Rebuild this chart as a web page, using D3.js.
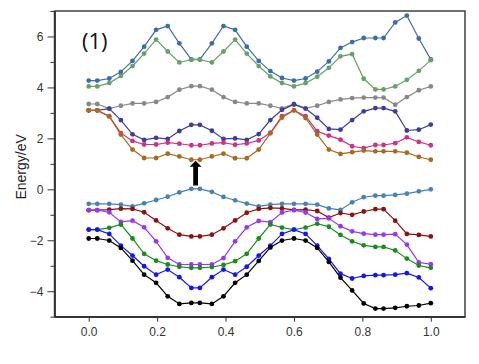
<!DOCTYPE html>
<html><head><meta charset="utf-8">
<script src="https://cdn.jsdelivr.net/npm/d3@7"></script>
<style>html,body{margin:0;padding:0;background:#fff;}svg{display:block;}</style>
</head><body><svg id="c" width="479" height="364"></svg>
<script>
const xs = [0,0.025,0.06,0.094,0.128,0.162,0.197,0.231,0.265,0.3,0.325,0.36,0.394,0.428,0.462,0.497,0.531,0.565,0.6,0.634,0.668,0.702,0.736,0.77,0.804,0.838,0.862,0.896,0.93,0.965,1.0];

const c1 = [4.27,4.27,4.35,4.61,5.04,5.6,6.26,6.41,5.73,5.1,5.1,5.73,6.41,6.26,5.6,5.04,4.64,4.37,4.27,4.35,4.62,5.02,5.55,5.78,5.94,5.94,5.94,6.55,6.82,5.92,5.1];
const c2 = [4.04,4.04,4.17,4.45,4.84,5.33,5.88,5.41,4.98,5.09,5.09,4.98,5.41,5.88,5.33,4.84,4.43,4.17,4.04,4.17,4.42,4.77,5.22,5.31,4.34,3.92,3.92,4.04,4.3,4.65,5.07];
const c3 = [3.35,3.35,3.17,3.28,3.37,3.37,3.43,3.62,3.91,4.05,4.05,3.91,3.62,3.43,3.37,3.37,3.28,3.18,3.35,3.18,3.28,3.43,3.53,3.58,3.6,3.6,3.6,3.32,3.62,3.89,4.04];
const c4 = [3.1,3.1,3.17,2.72,2.16,1.94,2.02,1.98,2.29,2.53,2.53,2.3,1.98,2.0,1.94,2.17,2.72,3.12,3.33,3.17,2.81,2.37,2.34,2.72,3.06,3.19,3.19,3.06,2.31,2.34,2.54];
const c5 = [3.1,3.1,2.87,2.21,1.9,1.76,1.76,1.83,1.79,1.73,1.73,1.8,1.83,1.75,1.8,1.92,2.22,2.87,3.1,2.87,2.28,2.11,1.95,1.69,1.62,1.74,1.74,1.81,2.04,1.86,1.73];
const c6 = [3.1,3.1,2.86,2.15,1.56,1.23,1.23,1.4,1.29,1.16,1.16,1.29,1.4,1.22,1.22,1.56,2.2,2.82,3.1,2.8,2.15,1.56,1.39,1.46,1.52,1.49,1.49,1.49,1.44,1.27,1.16];

const v1 = [-0.57,-0.57,-0.57,-0.6,-0.67,-0.55,-0.42,-0.29,-0.12,0.02,0.02,-0.1,-0.3,-0.43,-0.56,-0.67,-0.6,-0.57,-0.57,-0.57,-0.6,-0.75,-0.81,-0.51,-0.31,-0.25,-0.25,-0.22,-0.17,-0.08,0.0];
const v2 = [-0.82,-0.82,-0.8,-0.76,-0.77,-0.9,-1.22,-1.53,-1.78,-1.85,-1.85,-1.78,-1.53,-1.22,-0.92,-0.77,-0.73,-0.75,-0.81,-0.8,-0.85,-1.11,-0.93,-1.0,-0.87,-0.78,-0.78,-1.23,-1.75,-1.79,-1.85];
const v3 = [-0.82,-0.82,-0.9,-1.28,-1.23,-1.49,-2.04,-2.69,-2.95,-2.95,-2.95,-2.95,-2.7,-2.04,-1.49,-1.24,-1.29,-0.91,-0.82,-0.91,-1.16,-1.14,-1.45,-1.65,-1.74,-1.78,-1.78,-1.76,-2.17,-2.87,-2.94];
const v4 = [-1.58,-1.58,-1.51,-1.38,-1.93,-2.53,-2.8,-2.95,-3.04,-3.08,-3.08,-3.05,-2.97,-2.82,-2.53,-1.93,-1.38,-1.5,-1.58,-1.5,-1.35,-1.47,-1.79,-2.04,-2.2,-2.26,-2.26,-2.4,-2.72,-2.99,-3.08];
const v5 = [-1.58,-1.58,-1.75,-2.21,-2.6,-3.02,-3.35,-3.15,-3.45,-3.87,-3.87,-3.45,-3.15,-3.35,-3.04,-2.6,-2.21,-1.75,-1.58,-1.75,-2.21,-2.73,-3.31,-3.5,-3.4,-3.37,-3.37,-3.35,-3.29,-3.46,-3.88];
const v6 = [-1.93,-1.93,-2.01,-2.3,-2.8,-3.35,-3.67,-4.2,-4.5,-4.46,-4.46,-4.5,-4.2,-3.67,-3.35,-2.81,-2.28,-2.01,-1.93,-2.01,-2.3,-2.85,-3.47,-3.97,-4.48,-4.68,-4.68,-4.65,-4.59,-4.56,-4.47];

const xTicks = [0,0.2,0.4,0.6,0.8,1.0];
const yTicks = [-4,-2,0,2,4,6];
const yMinor = [-5,-3,-1,1,3,5,7];
const arrowX = 0.3125, arrowFrom = 0.15, arrowTo = 1.12;
const panelLabel = "(1)";
const yTitle = "Energy/eV";

const series = [c1,c2,c3,c4,c5,c6,v1,v2,v3,v4,v5,v6];
const colors = ["#3b6ea8","#68a068","#888888","#3d3d9e","#cc3385","#a86a1c",
                "#4682b4","#8b1212","#9b35f5","#1a8c1a","#1414f5","#000000"];

const svg = d3.select("#c");
const L = 54.5, R = 465, T = 11, B = 316.7;
const x = d3.scaleLinear().domain([-0.1,1.1]).range([L,R]);
const y = d3.scaleLinear().domain([-5,7]).range([B,T]);

// frame
svg.append("rect").attr("x",L).attr("y",T).attr("width",R-L).attr("height",B-T)
  .attr("fill","none").attr("stroke","#333").attr("stroke-width",1.4);

const font = "'Liberation Sans', Arial, sans-serif";
const xAxis = d3.axisBottom(x).tickValues(xTicks).tickFormat(d3.format(".1f")).tickSizeInner(5).tickSizeOuter(0).tickPadding(6);
const gx = svg.append("g").attr("transform",`translate(0,${B})`).call(xAxis);
const yAxis = d3.axisLeft(y).tickValues(yTicks).tickFormat(d3.format("d")).tickSizeInner(7).tickSizeOuter(0).tickPadding(4);
const gy = svg.append("g").attr("transform",`translate(${L},0)`).call(yAxis);
const yAxisMinor = d3.axisLeft(y).tickValues(yMinor).tickFormat("").tickSizeInner(4).tickSizeOuter(0);
const gym = svg.append("g").attr("transform",`translate(${L},0)`).call(yAxisMinor);
[gx,gy,gym].forEach(g=>{
  g.select(".domain").attr("stroke","#333").attr("stroke-width",1.4);
  g.selectAll(".tick line").attr("stroke","#333").attr("stroke-width",1);
  g.selectAll("text").attr("font-family",font).attr("font-size",12).attr("fill","#333");
});

svg.append("text").attr("transform",`translate(26,${(T+B)/2+3}) rotate(-90)`)
  .attr("text-anchor","middle").attr("font-family",font).attr("font-size",14).attr("fill","#222").text(yTitle);

const line = d3.line().x((d,i)=>x(xs[i])).y(d=>y(d));
series.forEach((s,k)=>{
  const g = svg.append("g");
  g.append("path").attr("d",line(s)).attr("fill","none").attr("stroke",colors[k]).attr("stroke-width",1.2);
  g.selectAll("circle").data(s).join("circle")
    .attr("cx",(d,i)=>x(xs[i])).attr("cy",d=>y(d)).attr("r",2.4).attr("fill",colors[k]);
});

// arrow
const ax = x(arrowX), ay0 = y(arrowFrom), ay1 = y(arrowTo);
const sw = 2.4, hw = 6, hl = 6;
svg.append("path").attr("d",
  `M${ax-sw},${ay0} L${ax-sw},${ay1+hl} L${ax-hw},${ay1+hl} L${ax},${ay1} L${ax+hw},${ay1+hl} L${ax+sw},${ay1+hl} L${ax+sw},${ay0} Z`)
  .attr("fill","#000");

svg.append("text").attr("x",82).attr("y",49).attr("font-family","'Open Sans', 'DejaVu Sans', sans-serif")
  .attr("font-weight",400).attr("font-size",22).attr("fill","#111").text(panelLabel);
</script></body></html>
